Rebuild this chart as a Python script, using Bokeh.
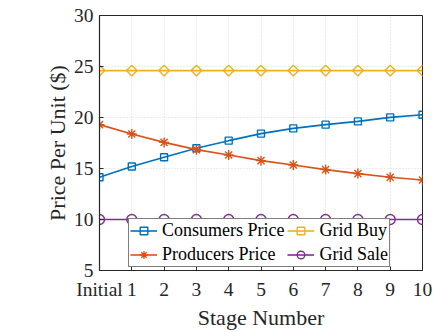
from bokeh.plotting import figure
from bokeh.models import Range1d, FixedTicker, Legend, LegendItem
from bokeh.embed import file_html
from bokeh.resources import INLINE

# Stage labels along the x axis
stages = ["Initial", "1", "2", "3", "4", "5", "6", "7", "8", "9", "10"]

# Price per unit at each stage ($)
consumers_price = [14.14, 15.19, 16.10, 16.98, 17.73, 18.42, 18.93, 19.30, 19.62, 20.01, 20.27]
producers_price = [19.30, 18.38, 17.56, 16.85, 16.32, 15.77, 15.35, 14.89, 14.50, 14.14, 13.88]
grid_buy = [24.6, 24.6, 24.6, 24.6, 24.6, 24.6, 24.6, 24.6, 24.6, 24.6, 24.6]
grid_sale = [10.0, 10.0, 10.0, 10.0, 10.0, 10.0, 10.0, 10.0, 10.0, 10.0, 10.0]

y_ticks = [5, 10, 15, 20, 25, 30]

FONT = "Liberation Serif"
AXIS_COLOR = "#262626"

xs = list(range(len(stages)))

p = figure(
    width=438, height=332,
    x_range=Range1d(0, len(stages) - 1),
    y_range=Range1d(5, 30),
    output_backend="svg", toolbar_location=None,
    min_border_left=99, min_border_right=16,
    min_border_top=15, min_border_bottom=62,
    background_fill_color="white", border_fill_color="white",
)

p.outline_line_color = AXIS_COLOR
p.outline_line_width = 1

# axes
p.xaxis.ticker = FixedTicker(ticks=xs)
p.xaxis.major_label_overrides = {i: s for i, s in enumerate(stages)}
p.yaxis.ticker = FixedTicker(ticks=y_ticks)
p.xaxis.axis_label = "Stage Number"
p.yaxis.axis_label = "Price Per Unit ($)"

for ax in (p.xaxis, p.yaxis):
    ax.axis_line_color = AXIS_COLOR
    ax.axis_line_width = 1.2
    ax.major_tick_line_color = AXIS_COLOR
    ax.major_tick_in = 4
    ax.major_tick_out = 0
    ax.minor_tick_line_color = None
    ax.major_label_text_font = FONT
    ax.major_label_text_font_size = "19.5px"
    ax.major_label_text_color = AXIS_COLOR
    ax.axis_label_text_font = FONT
    ax.axis_label_text_font_size = "22px"
    ax.axis_label_text_font_style = "normal"
    ax.axis_label_text_color = AXIS_COLOR

p.xaxis.major_label_standoff = 8
p.xaxis.axis_label_standoff = 2
p.yaxis.major_label_standoff = 6
p.yaxis.axis_label_standoff = 1

for g in (p.xgrid, p.ygrid):
    g.grid_line_color = "#d9d9d9"
    g.grid_line_dash = "1 2"
    g.grid_line_width = 1

series = [
    ("Consumers Price", consumers_price, "#0072BD", "square", 7, 0),
    ("Producers Price", producers_price, "#D95319", "asterisk", 10, 0),
    ("Grid Buy", grid_buy, "#EDB120", "square", 7.5, 0.7853981634),
    ("Grid Sale", grid_sale, "#7E2F8E", "circle", 10, 0),
]

items = []
for name, ys, color, marker, size, angle in series:
    ln = p.line(xs, ys, line_color=color, line_width=1.6)
    sc = p.scatter(xs, ys, marker=marker, size=size, angle=angle,
                   line_color=color, line_width=1.4, fill_alpha=0)
    items.append(LegendItem(label=name, renderers=[ln, sc]))

legend = Legend(
    items=items, location=(29, 3), ncols=2,
    label_text_font=FONT, label_text_font_size="18px", label_text_color="black",
    glyph_width=27, glyph_height=19, label_height=19, label_standoff=5,
    padding=1, spacing=3, margin=0,
    border_line_color="black", border_line_width=1,
    background_fill_color="white", background_fill_alpha=1,
)
p.add_layout(legend, "center")

open("out.html", "w").write(file_html(p, INLINE))
